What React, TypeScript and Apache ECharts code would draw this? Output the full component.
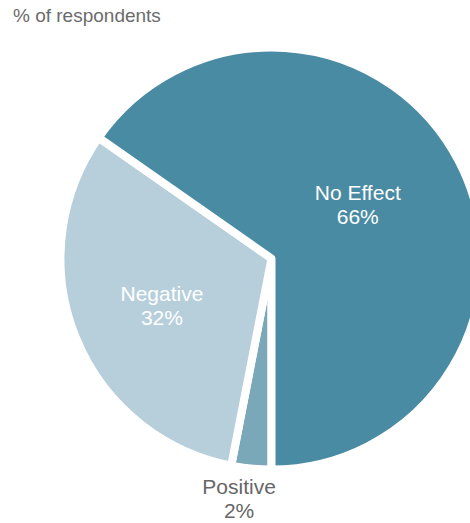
import { useEffect, useRef } from 'react';
import * as echarts from 'echarts';

const titleText = '% of respondents';
const categories = ['Positive', 'Negative', 'No Effect'];
const shares = [2, 32, 66];
const sliceColors = ['#7ba8b9', '#b7cfdb', '#4a8ba4'];
const labelColors = ['#666666', '#ffffff', '#ffffff'];
const labelOffsets = [
  [-22, 132],
  [-9, 6],
  [-10, -4],
];

const FONT = "'Liberation Sans', Arial, Helvetica, sans-serif";

export default function App() {
  const ref = useRef<HTMLDivElement>(null);
  useEffect(() => {
    if (!ref.current) return;
    const chart = echarts.init(ref.current, null, { renderer: 'svg' });
    const data = categories.map((name, i) => ({
      name,
      value: shares[i],
      itemStyle: { color: sliceColors[i] },
      label: { color: labelColors[i], offset: labelOffsets[i] },
    }));
    chart.setOption({
      animation: false,
      title: {
        text: titleText,
        left: 8,
        top: 1,
        textStyle: { fontFamily: FONT, fontSize: 19, fontWeight: 'normal', color: '#6b6b6b' },
      },
      series: [
        {
          type: 'pie',
          center: [271.5, 258.5],
          radius: [0, 211],
          startAngle: -90,
          clockwise: true,
          minAngle: 11,
          avoidLabelOverlap: false,
          emphasis: { disabled: true },
          itemStyle: { borderColor: '#ffffff', borderWidth: 8 },
          label: {
            show: true,
            position: 'inside',
            formatter: '{b}\n{c}%',
            fontFamily: FONT,
            fontSize: 21,
            lineHeight: 24,
          },
          labelLine: { show: false },
          data,
        },
      ],
    });
    return () => chart.dispose();
  }, []);
  return (
    <div
      ref={ref}
      style={{ position: 'absolute', left: 0, top: 0, width: 470, height: 523 }}
    />
  );
}
